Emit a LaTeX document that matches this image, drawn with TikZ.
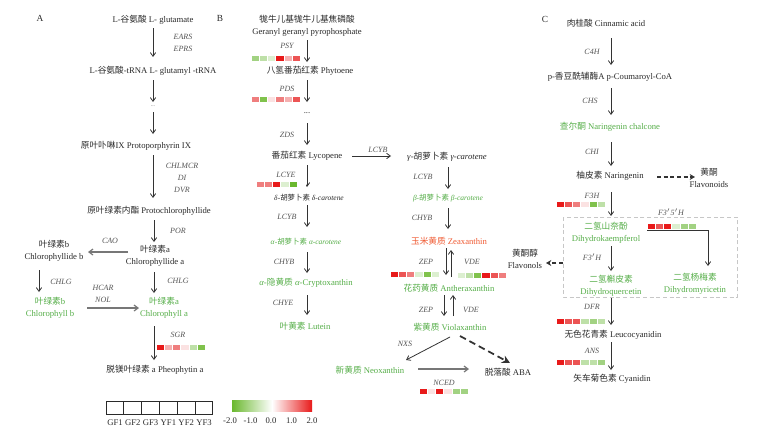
\documentclass[tikz,border=0pt]{standalone}
\usepackage{fontspec}
\setmainfont{Liberation Serif}
\newfontfamily\cjk{Noto Sans CJK SC}
\usetikzlibrary{arrows.meta}
\newcommand\zh[1]{{\cjk #1}}
\newcommand\fs{\fontsize{6.5}{9}\selectfont}
\newcommand\fe{\fontsize{6}{8}\selectfont}
\newcommand\fss{\fontsize{5.6}{7}\selectfont}
\definecolor{txt}{HTML}{2A2A2A}
\definecolor{enzc}{HTML}{555555}
\definecolor{grn}{HTML}{55AE48}
\definecolor{org}{HTML}{F05A32}
\definecolor{arrc}{HTML}{333333}
\definecolor{garr}{HTML}{777777}
\definecolor{r1}{HTML}{E81A1A}
\definecolor{r2}{HTML}{EC5454}
\definecolor{r3}{HTML}{EF7E7E}
\definecolor{r4}{HTML}{F5B0B0}
\definecolor{r5}{HTML}{FBE2E2}
\definecolor{w0}{HTML}{FFFFFF}
\definecolor{g5}{HTML}{DCEFD0}
\definecolor{g4}{HTML}{BEE0A8}
\definecolor{g3}{HTML}{A2D282}
\definecolor{g2}{HTML}{80C24C}
\definecolor{g1}{HTML}{6AB82E}
\newcommand\hmap[3]{\foreach \c [count=\i from 0] in {#3} {\fill[fill=\c, draw=white, line width=0.2pt] ({#1+\i*8.2},#2) rectangle ++(8.2,6.5);}}
\tikzset{
  cmp/.style={inner sep=0pt, font=\fs, text=txt, align=center},
  gcmp/.style={cmp, text=grn},
  enz/.style={inner sep=0pt, font=\fe\itshape, text=enzc},
  panel/.style={inner sep=0pt, font=\fontsize{7}{8}\selectfont, text=txt},
  arr/.style={draw=arrc, line width=0.6pt, -{Straight Barb[length=2.8pt,width=4pt]}},
  garrow/.style={draw=garr, line width=0.9pt, -{Straight Barb[length=3pt,width=4.5pt]}},
  darr/.style={draw=arrc, line width=1.1pt, dash pattern=on 3pt off 2pt, -{Stealth[length=4pt,width=4.5pt]}},
}
\begin{document}
\begin{tikzpicture}[x=0.75pt,y=-0.75pt]
\useasboundingbox (0,0) rectangle (761,439);
\fill[white] (0,0) rectangle (761,439);
% ================= Panel A =================
\node[panel] (lA) at (40,18) {A};
\node[cmp] (glu) at (153,20) {L-\zh{谷氨酸} L- glutamate};
\coordinate (a1s) at (153,28); \coordinate (a1e) at (153,57);
\draw[arr] (a1s) -- (a1e);
\node[enz] (eEARS) at (183,37) {EARS};
\node[enz] (eEPRS) at (183,49) {EPRS};
\node[cmp] (gtrna) at (153,71) {L-\zh{谷氨酸}-tRNA L- glutamyl -tRNA};
\coordinate (a2s) at (153,80); \coordinate (a2e) at (153,102);
\draw[arr] (a2s) -- (a2e);
\node[cmp, text=enzc, font=\fontsize{4}{5}\selectfont] (dA) at (153,106) {...};
\coordinate (a3s) at (153,112); \coordinate (a3e) at (153,134);
\draw[arr] (a3s) -- (a3e);
\node[cmp] (proto) at (136,146) {\zh{原叶卟啉}IX Protoporphyrin IX};
\coordinate (a4s) at (153,155); \coordinate (a4e) at (153,198);
\draw[arr] (a4s) -- (a4e);
\node[enz] (eCHL) at (182,166) {CHLMCR};
\node[enz] (eDI) at (182,178) {DI};
\node[enz] (eDVR) at (182,190) {DVR};
\node[cmp] (pchl) at (149,211) {\zh{原叶绿素内酯} Protochlorophyllide};
\coordinate (a5s) at (154,220); \coordinate (a5e) at (154,242);
\draw[arr] (a5s) -- (a5e);
\node[enz] (ePOR) at (178,231) {POR};
\node[cmp] (chlda) at (155,256) {\zh{叶绿素}a\\Chlorophyllide a};
\coordinate (a6s) at (128,252); \coordinate (a6e) at (88,252);
\draw[garrow] (a6s) -- (a6e);
\node[enz] (eCAO) at (110,241) {CAO};
\node[cmp] (chldb) at (54,251) {\zh{叶绿素}b\\Chlorophyllide b};
\coordinate (a7s) at (39,270); \coordinate (a7e) at (39,292);
\draw[arr] (a7s) -- (a7e);
\node[enz] (eCHLG1) at (61,282) {CHLG};
\node[gcmp] (chlb) at (50,308) {\zh{叶绿素}b\\Chlorophyll b};
\node[enz] (eHCAR) at (103,288) {HCAR};
\node[enz] (eNOL) at (103,300) {NOL};
\coordinate (a8s) at (87,308); \coordinate (a8e) at (139,308);
\draw[garrow] (a8s) -- (a8e);
\coordinate (a9s) at (154,272); \coordinate (a9e) at (154,293);
\draw[arr] (a9s) -- (a9e);
\node[enz] (eCHLG2) at (178,281) {CHLG};
\node[gcmp] (chla) at (164,308) {\zh{叶绿素}a\\Chlorophyll a};
\coordinate (a10s) at (154,326); \coordinate (a10e) at (154,360);
\draw[arr] (a10s) -- (a10e);
\node[enz] (eSGR) at (178,335) {SGR};
\hmap{156}{344}{r1,r4,r3,r5,g4,g2}
\node[cmp] (pheo) at (155,370) {\zh{脱镁叶绿素} a Pheophytin a};
% legend
\foreach \k [count=\j from 0] in {GF1,GF2,GF3,YF1,YF2,YF3} {
  \draw[draw=txt, line width=0.6pt] ({106+\j*17.8},401) rectangle ++(17.8,13);
  \node[cmp] (lg\j) at ({115+\j*17.8},423) {\k};
}
\shade[left color=g1, right color=white] (232,400) rectangle (272,411);
\shade[left color=white, right color=r1] (272,400) rectangle (312,411);
\foreach \v [count=\j from 0] in {-2.0,-1.0,0.0,1.0,2.0} {
  \node[cmp] (cb\j) at ({230+\j*20.5},421) {\v};
}
% ================= Panel B =================
\node[panel] (lB) at (220,18) {B};
\node[cmp] (ggpp) at (307,26) {\zh{牻牛儿基牻牛儿基焦磷酸}\\Geranyl geranyl pyrophosphate};
\node[enz] (ePSY) at (287,46) {PSY};
\coordinate (b1s) at (307,40); \coordinate (b1e) at (307,62);
\draw[arr] (b1s) -- (b1e);
\hmap{251}{55}{g3,g4,g5,r1,r4,r2}
\node[cmp] (phyt) at (310,71) {\zh{八氢番茄红素} Phytoene};
\node[enz] (ePDS) at (287,89) {PDS};
\coordinate (b2s) at (307,80); \coordinate (b2e) at (307,102);
\draw[arr] (b2s) -- (b2e);
\hmap{251}{96}{r3,g2,r5,r3,r4,r2}
\node[cmp] (dB) at (307,113) {...};
\node[enz] (eZDS) at (287,135) {ZDS};
\coordinate (b3s) at (307,123); \coordinate (b3e) at (307,145);
\draw[arr] (b3s) -- (b3e);
\node[cmp] (lyco) at (307,156) {\zh{番茄红素} Lycopene};
\coordinate (b4s) at (352,156); \coordinate (b4e) at (391,156);
\draw[arr] (b4s) -- (b4e);
\node[enz] (eLCYB1) at (378,150) {LCYB};
\node[enz] (eLCYE) at (286,175) {LCYE};
\coordinate (b5s) at (307,165); \coordinate (b5e) at (307,187);
\draw[arr] (b5s) -- (b5e);
\hmap{256}{181}{r3,r3,r1,g5,g1,w0}
\node[cmp, font=\fss] (delta) at (309,198) {\textit{δ}-\zh{胡萝卜素} \textit{δ-carotene}};
\node[enz] (eLCYB2) at (287,217) {LCYB};
\coordinate (b6s) at (307,205); \coordinate (b6e) at (307,227);
\draw[arr] (b6s) -- (b6e);
\node[gcmp, font=\fss] (alpha) at (306,242) {\textit{α}-\zh{胡萝卜素} \textit{α-carotene}};
\node[enz] (eCHYB1) at (284,262) {CHYB};
\coordinate (b7s) at (307,252); \coordinate (b7e) at (307,273);
\draw[arr] (b7s) -- (b7e);
\node[gcmp] (acry) at (306,283) {\textit{α}-\zh{隐黄质} \textit{α}-Cryptoxanthin};
\node[enz] (eCHYE) at (283,303) {CHYE};
\coordinate (b8s) at (307,295); \coordinate (b8e) at (307,315);
\draw[arr] (b8s) -- (b8e);
\node[gcmp] (lute) at (305,326) {\zh{叶黄素} Lutein};
\node[cmp] (gamma) at (447,157) {\textit{γ}-\zh{胡萝卜素} \textit{γ-carotene}};
\node[enz] (eLCYB3) at (423,177) {LCYB};
\coordinate (b9s) at (448,167); \coordinate (b9e) at (448,189);
\draw[arr] (b9s) -- (b9e);
\node[gcmp, font=\fss] (beta) at (448,198) {\textit{β}-\zh{胡萝卜素} \textit{β-carotene}};
\node[enz] (eCHYB2) at (422,218) {CHYB};
\coordinate (b10s) at (448,208); \coordinate (b10e) at (448,229);
\draw[arr] (b10s) -- (b10e);
\node[cmp, text=org] (zea) at (449,241) {\zh{玉米黄质} Zeaxanthin};
\coordinate (b11s) at (446,248); \coordinate (b11e) at (446,275);
\draw[arr] (b11s) -- (b11e);
\coordinate (b12s) at (451,277); \coordinate (b12e) at (451,250);
\draw[arr] (b12s) -- (b12e);
\node[enz] (eZEP1) at (426,262) {ZEP};
\node[enz] (eVDE1) at (472,262) {VDE};
\hmap{390}{271}{r1,r2,r3,g5,g2,g5}
\hmap{457}{272}{g5,g4,g2,r1,r2,r3}
\node[gcmp] (anth) at (449,288) {\zh{花药黄质} Antheraxanthin};
\coordinate (b13s) at (444,295); \coordinate (b13e) at (444,316);
\draw[arr] (b13s) -- (b13e);
\coordinate (b14s) at (453,316); \coordinate (b14e) at (453,295);
\draw[arr] (b14s) -- (b14e);
\node[enz] (eZEP2) at (426,310) {ZEP};
\node[enz] (eVDE2) at (471,310) {VDE};
\node[gcmp] (viola) at (450,327) {\zh{紫黄质} Violaxanthin};
\coordinate (b15s) at (450,337); \coordinate (b15e) at (406,360);
\draw[arr] (b15s) -- (b15e);
\node[enz] (eNXS) at (405,344) {NXS};
\coordinate (b16s) at (460,336); \coordinate (b16e) at (510,363);
\draw[darr, line width=1.3pt, dash pattern=on 5pt off 3pt, -{Stealth[length=6pt,width=6pt]}] (b16s) -- (b16e);
\node[gcmp] (neo) at (370,370) {\zh{新黄质} Neoxanthin};
\coordinate (b17s) at (418,369); \coordinate (b17e) at (469,369);
\draw[garrow] (b17s) -- (b17e);
\node[cmp] (aba) at (508,372) {\zh{脱落酸} ABA};
\node[enz] (eNCED) at (444,383) {NCED};
\hmap{419}{388}{r1,r5,r1,r5,g3,g3}
\node[cmp] (flvl) at (525,259) {\zh{黄酮醇}\\Flavonols};
% ================= Panel C =================
\node[panel] (lC) at (545,19) {C};
\node[cmp] (cinn) at (606,23) {\zh{肉桂酸} Cinnamic acid};
\node[enz] (eC4H) at (592,52) {C4H};
\coordinate (c1s) at (611,38); \coordinate (c1e) at (611,65);
\draw[arr] (c1s) -- (c1e);
\node[cmp] (pcou) at (610,77) {p-\zh{香豆酰辅酶}A p-Coumaroyl-CoA};
\node[enz] (eCHS) at (590,101) {CHS};
\coordinate (c2s) at (611,88); \coordinate (c2e) at (611,115);
\draw[arr] (c2s) -- (c2e);
\node[gcmp] (chal) at (610,127) {\zh{查尔酮} Naringenin chalcone};
\node[enz] (eCHI) at (592,152) {CHI};
\coordinate (c3s) at (611,142); \coordinate (c3e) at (611,166);
\draw[arr] (c3s) -- (c3e);
\node[cmp] (nar) at (610,176) {\zh{柚皮素} Naringenin};
\coordinate (c4s) at (657,177); \coordinate (c4e) at (695,177);
\draw[darr] (c4s) -- (c4e);
\node[cmp] (flvd) at (709,178) {\zh{黄酮}\\Flavonoids};
\node[enz] (eF3H) at (592,196) {F3H};
\coordinate (c5s) at (611,192); \coordinate (c5e) at (611,216);
\draw[arr] (c5s) -- (c5e);
\hmap{556}{201}{r1,r2,r3,r5,g2,g4}
\draw[draw=black!22, line width=0.6pt, dash pattern=on 3pt off 2pt] (563,217) rectangle (737,297);
\coordinate (c6s) at (563,263); \coordinate (c6e) at (546,263);
\draw[darr] (c6s) -- (c6e);
\node[gcmp] (dhk) at (606,233) {\zh{二氢山奈酚}\\Dihydrokaempferol};
\node[enz] (eF3pH) at (592,257) {F3$'$H};
\coordinate (c7s) at (611,246); \coordinate (c7e) at (611,271);
\draw[arr] (c7s) -- (c7e);
\node[gcmp] (dhq) at (611,286) {\zh{二氢槲皮素}\\Dihydroquercetin};
\node[enz] (eF35H) at (671,212) {F3$'$5$'$H};
\hmap{647}{223}{r1,r2,r1,g5,g3,g3}
\coordinate (c8s) at (647,230); \coordinate (c8m) at (708,230); \coordinate (c8e) at (708,266);
\draw[arr] (c8s) -- (c8m) -- (c8e);
\node[gcmp] (dhm) at (695,284) {\zh{二氢杨梅素}\\Dihydromyricetin};
\node[enz] (eDFR) at (592,307) {DFR};
\coordinate (c9s) at (611,298); \coordinate (c9e) at (611,325);
\draw[arr] (c9s) -- (c9e);
\hmap{556}{318}{r1,r2,r2,g4,g3,g4}
\node[cmp] (leuc) at (613,335) {\zh{无色花青素} Leucocyanidin};
\node[enz] (eANS) at (592,351) {ANS};
\coordinate (c10s) at (611,342); \coordinate (c10e) at (611,370);
\draw[arr] (c10s) -- (c10e);
\hmap{556}{359}{r1,r2,r2,g4,g4,g3}
\node[cmp] (cyan) at (612,379) {\zh{矢车菊色素} Cyanidin};
\end{tikzpicture}
\end{document}
